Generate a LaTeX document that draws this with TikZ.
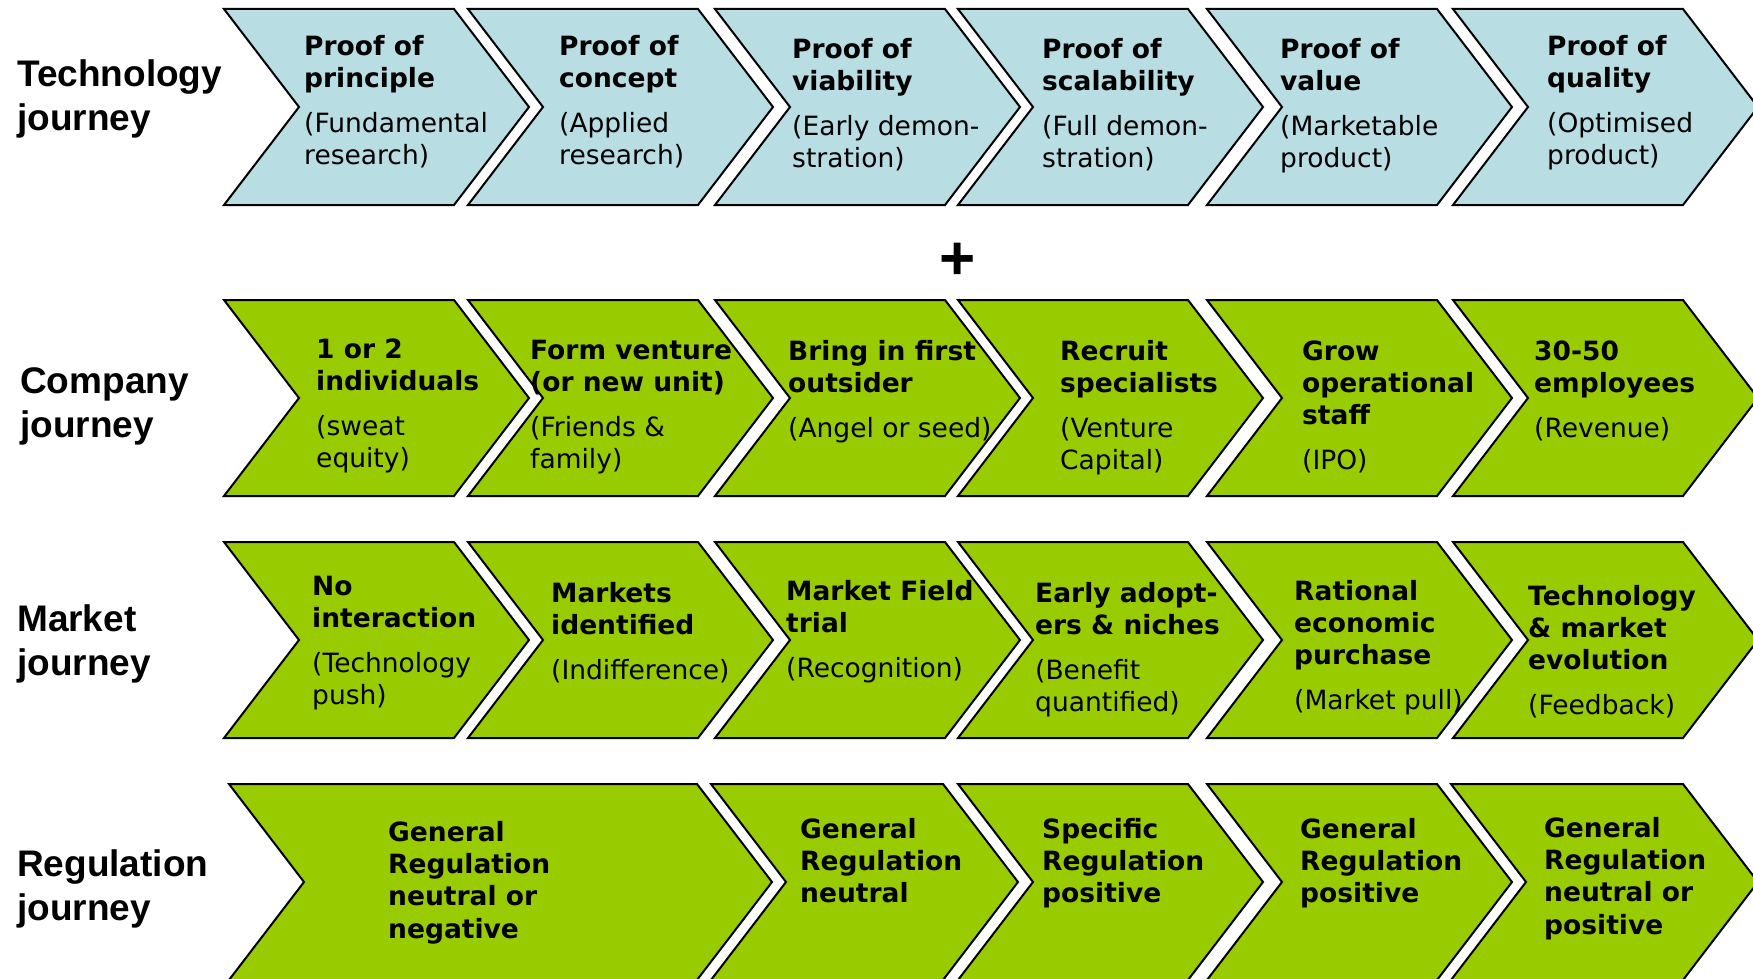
\documentclass[tikz,border=0pt]{standalone}
\usepackage{fontspec}
\setmainfont{DejaVu Sans}
\newfontfamily\labelfont{Liberation Sans}
\definecolor{techblue}{RGB}{184,222,227}
\definecolor{leafgreen}{RGB}{153,204,0}
% one chevron: left x, top y, width of the top edge, style
\newcommand{\chev}[4]{\filldraw[#4] (#1,#2) -- ++(#3,0) -- ++(75,98) -- ++(-75,98) -- ++(-#3,0) -- ++(75,-98) -- cycle;}
\begin{document}
\begin{tikzpicture}[x=1pt,y=-1pt,
	techbox/.style={fill=techblue, draw=black, line width=2pt},
	greenbox/.style={fill=leafgreen, draw=black, line width=2pt},
	% nodes are placed by the baseline of their first line
	chevtext/.style={anchor=north west, yshift=22.7pt, align=left, inner sep=0pt, font=\fontsize{26.5}{32.4}\selectfont},
	journey/.style={anchor=north west, yshift=30.8pt, align=left, inner sep=0pt, font=\labelfont\bfseries\fontsize{37}{44}\selectfont}]
	\useasboundingbox (0,0) rectangle (1753,979);
	% technology row
	\chev{224}{9}{230}{techbox}
	\chev{468}{9}{230}{techbox}
	\chev{715}{9}{230}{techbox}
	\chev{958}{9}{230}{techbox}
	\chev{1207}{9}{230}{techbox}
	\chev{1453}{9}{230}{techbox}
	% company row
	\chev{224}{300}{230}{greenbox}
	\chev{468}{300}{230}{greenbox}
	\chev{715}{300}{230}{greenbox}
	\chev{958}{300}{230}{greenbox}
	\chev{1207}{300}{230}{greenbox}
	\chev{1453}{300}{230}{greenbox}
	% market row
	\chev{224}{542}{230}{greenbox}
	\chev{468}{542}{230}{greenbox}
	\chev{715}{542}{230}{greenbox}
	\chev{958}{542}{230}{greenbox}
	\chev{1207}{542}{230}{greenbox}
	\chev{1453}{542}{230}{greenbox}
	% regulation row
	\chev{229}{784}{468}{greenbox}
	\chev{711}{784}{232}{greenbox}
	\chev{958}{784}{230}{greenbox}
	\chev{1207}{784}{230}{greenbox}
	\chev{1451}{784}{232}{greenbox}

	\node[journey] (ltech) at (17,86) {\strut Technology\\journey};
	\node[journey] (lcomp) at (20,393) {\strut Company\\journey};
	\node[journey] (lmark) at (17,631) {\strut Market\\journey};
	\node[journey] (lreg) at (17,876) {\strut Regulation\\journey};

	\node[font=\labelfont\bfseries\fontsize{62}{62}\selectfont, inner sep=0pt] (plus) at (958,261) {+};

	\node[chevtext] (t1) at (304,55) {\strut\textbf{Proof of}\\\textbf{principle}\\[12.3pt](Fundamental\\research)};
	\node[chevtext] (t2) at (559,55) {\strut\textbf{Proof of}\\\textbf{concept}\\[12.3pt](Applied\\research)};
	\node[chevtext] (t3) at (792,58) {\strut\textbf{Proof of}\\\textbf{viability}\\[12.3pt](Early demon-\\stration)};
	\node[chevtext] (t4) at (1042,58) {\strut\textbf{Proof of}\\\textbf{scalability}\\[12.3pt](Full demon-\\stration)};
	\node[chevtext] (t5) at (1280,58) {\strut\textbf{Proof of}\\\textbf{value}\\[12.3pt](Marketable\\product)};
	\node[chevtext] (t6) at (1547,55) {\strut\textbf{Proof of}\\\textbf{quality}\\[12.3pt](Optimised\\product)};

	\node[chevtext] (c1) at (316,358) {\strut\textbf{1 or 2}\\\textbf{individuals}\\[12.3pt](sweat\\equity)};
	\node[chevtext] (c2) at (530,359) {\strut\textbf{Form venture}\\\textbf{(or new unit)}\\[12.3pt](Friends \&\\family)};
	\node[chevtext] (c3) at (788,360) {\strut\textbf{Bring in first}\\\textbf{outsider}\\[12.3pt](Angel or seed)};
	\node[chevtext] (c4) at (1060,360) {\strut\textbf{Recruit}\\\textbf{specialists}\\[12.3pt](Venture\\Capital)};
	\node[chevtext] (c5) at (1302,360) {\strut\textbf{Grow}\\\textbf{operational}\\\textbf{staff}\\[12.3pt](IPO)};
	\node[chevtext] (c6) at (1534,360) {\strut\textbf{30-50}\\\textbf{employees}\\[12.3pt](Revenue)};

	\node[chevtext] (m1) at (312,595) {\strut\textbf{No}\\\textbf{interaction}\\[12.3pt](Technology\\push)};
	\node[chevtext] (m2) at (551,602) {\strut\textbf{Markets}\\\textbf{identified}\\[12.3pt](Indifference)};
	\node[chevtext] (m3) at (786,600) {\strut\textbf{Market Field}\\\textbf{trial}\\[12.3pt](Recognition)};
	\node[chevtext] (m4) at (1035,602) {\strut\textbf{Early adopt-}\\\textbf{ers \& niches}\\[12.3pt](Benefit\\quantified)};
	\node[chevtext] (m5) at (1294,600) {\strut\textbf{Rational}\\\textbf{economic}\\\textbf{purchase}\\[12.3pt](Market pull)};
	\node[chevtext] (m6) at (1528,605) {\strut\textbf{Technology}\\\textbf{\& market}\\\textbf{evolution}\\[12.3pt](Feedback)};

	\node[chevtext] (r1) at (388,841) {\strut\textbf{General}\\\textbf{Regulation}\\\textbf{neutral or}\\\textbf{negative}};
	\node[chevtext] (r2) at (800,838) {\strut\textbf{General}\\\textbf{Regulation}\\\textbf{neutral}};
	\node[chevtext] (r3) at (1042,838) {\strut\textbf{Specific}\\\textbf{Regulation}\\\textbf{positive}};
	\node[chevtext] (r4) at (1300,838) {\strut\textbf{General}\\\textbf{Regulation}\\\textbf{positive}};
	\node[chevtext] (r5) at (1544,837) {\strut\textbf{General}\\\textbf{Regulation}\\\textbf{neutral or}\\\textbf{positive}};
\end{tikzpicture}
\end{document}
